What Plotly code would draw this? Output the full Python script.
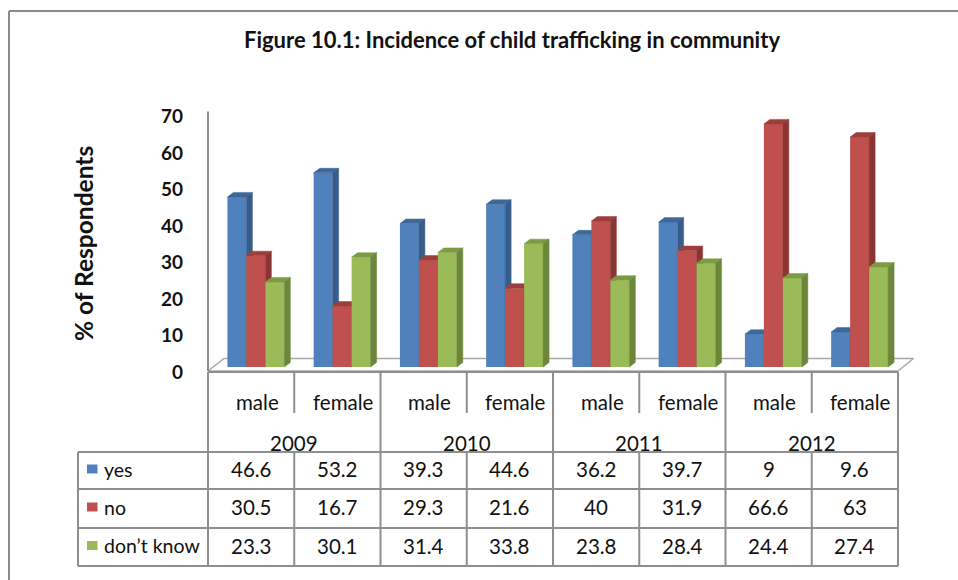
import plotly.graph_objects as go

# ---- data -------------------------------------------------------------
years = ["2009", "2010", "2011", "2012"]
genders = ["male", "female"]
series_names = ["yes", "no", "don\u2019t know"]
yes_vals = [46.6, 53.2, 39.3, 44.6, 36.2, 39.7, 9, 9.6]
no_vals = [30.5, 16.7, 29.3, 21.6, 40, 31.9, 66.6, 63]
dontknow_vals = [23.3, 30.1, 31.4, 33.8, 23.8, 28.4, 24.4, 27.4]
y_ticks = [0, 10, 20, 30, 40, 50, 60, 70]

series_vals = [yes_vals, no_vals, dontknow_vals]
front_colors = ["#4F81BD", "#C0504D", "#9BBB59"]
top_colors = ["#3E679A", "#9C3E3C", "#7D9A45"]
side_colors = ["#385D8A", "#8B3532", "#6C873A"]
bar_offsets = [-0.165, 0.055, 0.275]
bar_width = 0.22

n_cat = len(years) * len(genders)
cat_labels = [g for _ in years for g in genders]

# ---- geometry (pixels) -----------------------------------------------
W, H = 958, 580
PL, PR, PT, PB = 204, 920, 100, 372        # plot area
AXIS_PX = 208                             # pixel of x = -0.5
CAT_W = 86.25                             # pixels per category
ZERO_PX = 367                             # pixel of y = 0
K = 3.65                                  # pixels per percentage point

x_range = [-0.5 - (AXIS_PX - PL) / CAT_W, -0.5 + (PR - AXIS_PX) / CAT_W]
y_range = [-(PB - ZERO_PX) / K, (ZERO_PX - PT) / K]

DX = 6.0 / CAT_W        # depth of a column (x units)
DY = 4.5 / K            # depth of a column (y units)


def xp(px):
    return (px - PL) / (PR - PL)


def yp(py):
    return (PB - py) / (PB - PT)


def cat_px(x):
    return AXIS_PX + (x + 0.5) * CAT_W


fig = go.Figure()

# floor of the 3-D plot area
floor_front = -(371 - ZERO_PX) / K
floor_back = (ZERO_PX - 358.5) / K
fig.add_trace(go.Scatter(
    x=[-0.5, n_cat - 0.5, n_cat - 0.5 + 15.5 / CAT_W, -0.5 + 16 / CAT_W, -0.5],
    y=[floor_front, floor_front, floor_back, floor_back, floor_front],
    mode="lines", fill="toself", fillcolor="white",
    line=dict(color="#a8a8a8", width=1.5),
    hoverinfo="skip", showlegend=False, xaxis="x", yaxis="y",
))

# columns: each series on its own overlay layer so that the column to the
# right hides the side face of its left neighbour
for s, (name, vals) in enumerate(zip(series_names, series_vals)):
    xa, ya = "x%d" % (s + 2), "y%d" % (s + 2)
    xs = [i + bar_offsets[s] for i in range(n_cat)]
    fig.add_trace(go.Bar(
        x=xs, y=vals, width=bar_width, name=name,
        marker=dict(color=front_colors[s], line=dict(width=0)),
        xaxis=xa, yaxis=ya, showlegend=False,
    ))
    top_x, top_y, side_x, side_y = [], [], [], []
    for xc, v in zip(xs, vals):
        xl, xr = xc - bar_width / 2, xc + bar_width / 2
        top_x += [xl, xl + DX, xr + DX, xr, xl, None]
        top_y += [v, v + DY, v + DY, v, v, None]
        side_x += [xr, xr + DX, xr + DX, xr, xr, None]
        side_y += [0, DY, v + DY, v, 0, None]
    for px_, py_, col in ((top_x, top_y, top_colors[s]), (side_x, side_y, side_colors[s])):
        fig.add_trace(go.Scatter(
            x=px_, y=py_, mode="lines", fill="toself", fillcolor=col,
            line=dict(color=col, width=0.5), hoverinfo="skip",
            showlegend=False, xaxis=xa, yaxis=ya,
        ))

# ---- data table under the chart --------------------------------------
GRID = dict(color="#8e8e8e", width=2)
HEADER_TOP, SEP_BOTTOM = 372, 413
ROW_LINES = [452, 489, 528, 566]
LEGEND_LEFT = 78
TABLE_RIGHT = cat_px(n_cat - 0.5)

shapes = []


def hline(py, x0, x1, line=GRID):
    shapes.append(dict(type="line", xref="paper", yref="paper",
                       x0=xp(x0), x1=xp(x1), y0=yp(py), y1=yp(py), line=line))


def vline(px, y0, y1, line=GRID):
    shapes.append(dict(type="line", xref="paper", yref="paper",
                       x0=xp(px), x1=xp(px), y0=yp(y0), y1=yp(y1), line=line))


# value axis line
shapes.append(dict(type="line", xref="x", yref="y", x0=-0.5, x1=-0.5,
                   y0=floor_front, y1=70, line=GRID))

hline(HEADER_TOP, AXIS_PX, TABLE_RIGHT)
for py in ROW_LINES:
    hline(py, LEGEND_LEFT, TABLE_RIGHT)
vline(LEGEND_LEFT, ROW_LINES[0], ROW_LINES[-1])
vline(AXIS_PX, HEADER_TOP, ROW_LINES[-1])
for i in range(n_cat):
    bx = cat_px(i + 0.5)
    if (i + 1) % len(genders) == 0:
        vline(bx, HEADER_TOP, ROW_LINES[-1])
    else:
        vline(bx, HEADER_TOP, SEP_BOTTOM)
        vline(bx, ROW_LINES[0], ROW_LINES[-1])

# outer chart frame
FRAME = dict(color="#8a8a8a", width=2)
shapes.append(dict(type="line", xref="paper", yref="paper",
                   x0=xp(9), x1=xp(9), y0=yp(11), y1=yp(H), line=FRAME))
shapes.append(dict(type="line", xref="paper", yref="paper",
                   x0=xp(9), x1=xp(W), y0=yp(11), y1=yp(11), line=FRAME))

FONT = "Lato"
TEXT = "#111111"
annotations = []


def label(text, x, y, size, xref="x", xanchor="center", bold=False, **kw):
    if bold:
        text = "<b>%s</b>" % text
    annotations.append(dict(text=text, x=x, y=y, xref=xref, yref="paper",
                            xanchor=xanchor, yanchor="middle", showarrow=False,
                            font=dict(family=FONT, size=size, color=TEXT), **kw))


for i, g in enumerate(cat_labels):
    label(g, i + 0.07, yp(402), 20.5)
for j, yr in enumerate(years):
    label(yr, j * len(genders) + 0.5, yp(443), 20.5)

ROW_MIDS = [(a + b) / 2 for a, b in zip(ROW_LINES[:-1], ROW_LINES[1:])]
for s, (name, vals) in enumerate(zip(series_names, series_vals)):
    ym = ROW_MIDS[s] - 1.5
    for i, v in enumerate(vals):
        label("%g" % v, i, yp(ym), 20.5)
    label(name, xp(102), yp(ym), 19.5, xref="paper", xanchor="left")
    shapes.append(dict(type="rect", xref="paper", yref="paper",
                       x0=xp(87), x1=xp(97.5), y0=yp(ym - 4.5), y1=yp(ym + 4.5),
                       fillcolor=front_colors[s], line=dict(width=0)))

# value-axis title
label("% of Respondents", xp(83), yp(244), 24.5, xref="paper", bold=True, textangle=-90)

axis_hidden = dict(visible=False, range=x_range, fixedrange=True)
layout_axes = dict(
    xaxis=dict(axis_hidden, domain=[0, 1]),
    yaxis=dict(range=y_range, tickvals=y_ticks, ticks="", showgrid=False,
               zeroline=False, showline=False, fixedrange=True,
               ticklabelshift=5, ticklabelstandoff=20,
               tickfont=dict(family=FONT, size=19, color=TEXT, weight="bold")),
)
for k in (2, 3, 4):
    layout_axes["xaxis%d" % k] = dict(axis_hidden, overlaying="x")
    layout_axes["yaxis%d" % k] = dict(visible=False, range=y_range,
                                      fixedrange=True, overlaying="y")

fig.update_layout(
    width=W, height=H,
    margin=dict(l=PL, r=W - PR, t=PT, b=H - PB, autoexpand=False),
    paper_bgcolor="white", plot_bgcolor="rgba(0,0,0,0)",
    title=dict(text="<b>Figure 10.1: Incidence of child trafficking in community</b>",
               x=512 / W, xanchor="center", y=1 - 40 / H, yanchor="middle",
               font=dict(family=FONT, size=22, color=TEXT)),
    shapes=shapes, annotations=annotations, showlegend=False,
    **layout_axes,
)

fig.write_html("out.html")
